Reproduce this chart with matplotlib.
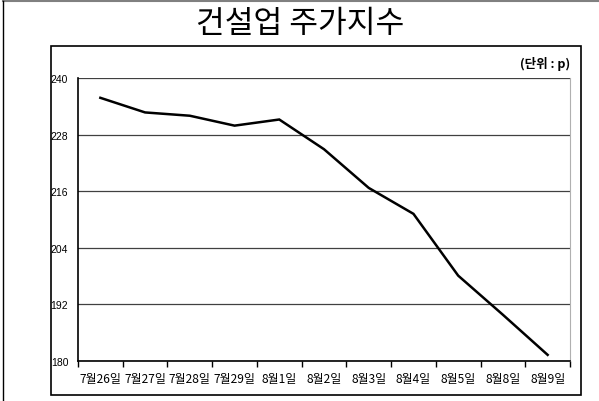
import matplotlib.pyplot as plt
from matplotlib.patches import Rectangle
from matplotlib.lines import Line2D

plt.rcParams['font.family'] = ['Noto Sans CJK KR', 'DejaVu Sans']

# 데이터
dates = ['7월26일', '7월27일', '7월28일', '7월29일', '8월1일', '8월2일',
         '8월3일', '8월4일', '8월5일', '8월8일', '8월9일']
index_values = [235.8, 232.7, 232.0, 229.9, 231.2, 224.9,
                216.7, 211.2, 198.1, 189.8, 181.3]
y_ticks = [180, 192, 204, 216, 228, 240]

W, H = 599, 402
fig = plt.figure(figsize=(W / 100, H / 100), dpi=100)

# 바깥 테두리 (위, 왼쪽)
fig.add_artist(Line2D([3 / W, 1], [1 - 2 / H, 1 - 2 / H], color='#808080', lw=1.5))
fig.add_artist(Line2D([3 / W, 3 / W], [0, 1 - 2 / H], color='black', lw=1.0))

# 안쪽 프레임
fig.add_artist(Rectangle((51 / W, 1 - 396 / H), 530 / W, 349 / H,
                         fill=False, edgecolor='black', lw=1.2))

fig.text(300 / W, 1 - 24 / H, '건설업 주가지수', ha='center', va='center',
         fontsize=22.5, fontweight='medium')
fig.text(570 / W, 1 - 64 / H, '(단위 : p)', ha='right', va='center',
         fontsize=9, fontweight='bold')

ax = fig.add_axes([78 / W, 1 - 362 / H, 492 / W, 283 / H])
x = list(range(len(dates)))
ax.plot(x, index_values, color='black', lw=1.8, solid_joinstyle='miter')

ax.set_ylim(180, 240)
ax.set_yticks(y_ticks)
ax.set_yticklabels([str(v) for v in y_ticks], fontsize=7.5, family='Liberation Sans')
ax.yaxis.grid(True, color='#404040', lw=0.9)
ax.tick_params(axis='y', length=0, pad=7)

ax.set_xlim(-0.5, len(dates) - 0.5)
ax.set_xticks([i - 0.5 for i in range(len(dates) + 1)], minor=False)
ax.set_xticklabels([])
ax.set_xticks(x, minor=True)
ax.set_xticklabels(dates, minor=True, fontsize=8.6)
ax.tick_params(axis='x', which='major', length=4, width=1, direction='out', color='black')
ax.tick_params(axis='x', which='minor', length=0, pad=8)

ax.spines['left'].set_color('black')
ax.spines['bottom'].set_color('black')
ax.spines['left'].set_linewidth(1.2)
ax.spines['bottom'].set_linewidth(1.2)
ax.spines['top'].set_visible(False)
ax.spines['right'].set_color('#b0b0b0')

fig.savefig('out.png', dpi=100)
